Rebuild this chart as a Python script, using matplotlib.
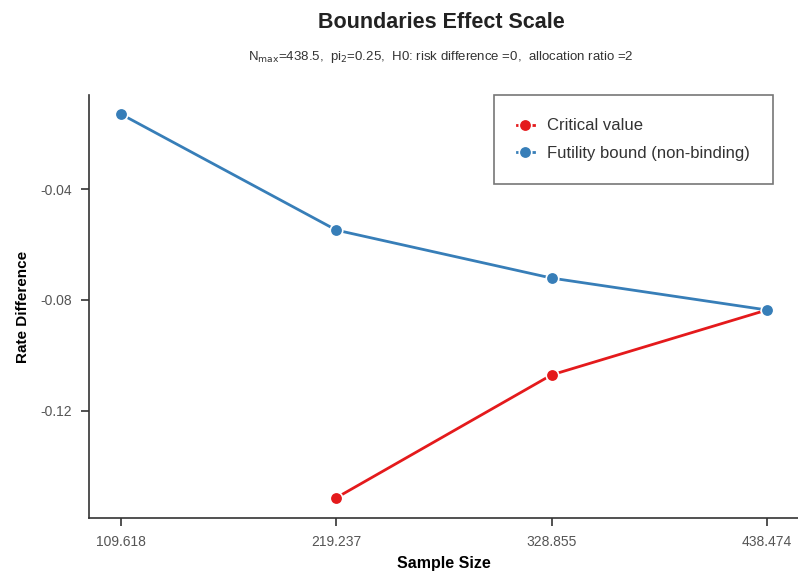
import matplotlib
matplotlib.use("Agg")
import matplotlib.pyplot as plt

plt.rcParams['font.family'] = ['Liberation Sans', 'DejaVu Sans']

# data
sample_size = [109.618, 219.237, 328.855, 438.474]
critical_x = [219.237, 328.855, 438.474]
critical = [-0.1513, -0.1070, -0.0836]
futility_x = [109.618, 219.237, 328.855, 438.474]
futility = [-0.0130, -0.0548, -0.0721, -0.0836]
y_ticks = [-0.04, -0.08, -0.12]

red = '#E41A1C'
blue = '#377EB8'

fig = plt.figure(figsize=(7.98, 5.71), dpi=100)
ax = fig.add_axes([0.1115, 0.0928, 0.8885, 0.7408])

ax.plot(critical_x, critical, color=red, lw=2, marker='o', ms=9,
        mec='white', mew=1.2, label='Critical value', zorder=3)
ax.plot(futility_x, futility, color=blue, lw=2, marker='o', ms=9,
        mec='white', mew=1.2, label='Futility bound (non-binding)', zorder=3)

ax.set_xlim(93.3, 454.3)
ax.set_ylim(-0.1586, -0.0061)
ax.set_xticks(sample_size)
ax.set_xticklabels(['%.3f' % v for v in sample_size])
ax.set_yticks(y_ticks)
ax.set_yticklabels(['%.2f' % v for v in y_ticks])

for s in ['top', 'right']:
    ax.spines[s].set_visible(False)
for s in ['left', 'bottom']:
    ax.spines[s].set_color('#333333')
    ax.spines[s].set_linewidth(1.2)
ax.tick_params(axis='both', colors='#333333', labelcolor='#555555',
               labelsize=10, length=6, width=1.2, pad=6)

ax.set_xlabel('Sample Size', fontsize=11.5, fontweight='bold', labelpad=5)
ax.set_ylabel('Rate Difference', fontsize=11, fontweight='bold', labelpad=8)

fig.text(0.553, 0.961, 'Boundaries Effect Scale', ha='center', va='center',
         fontsize=15.5, fontweight='bold', color='#222222')
fig.text(0.553, 0.90,
         r'N$_{\mathrm{max}}$=438.5,  pi$_{2}$=0.25,  H0: risk difference =0,  allocation ratio =2',
         ha='center', va='center', fontsize=9.5, color='#333333')

leg = ax.legend(loc='upper right', bbox_to_anchor=(0.965, 1.0), fontsize=12,
                frameon=True, fancybox=False, borderpad=1.4, handlelength=1.0,
                handletextpad=0.8, labelspacing=0.75, borderaxespad=0)
leg.get_frame().set_edgecolor('#555555')
leg.get_frame().set_linewidth(1.2)
for t in leg.get_texts():
    t.set_color('#333333')

fig.savefig('out.png', dpi=100)
